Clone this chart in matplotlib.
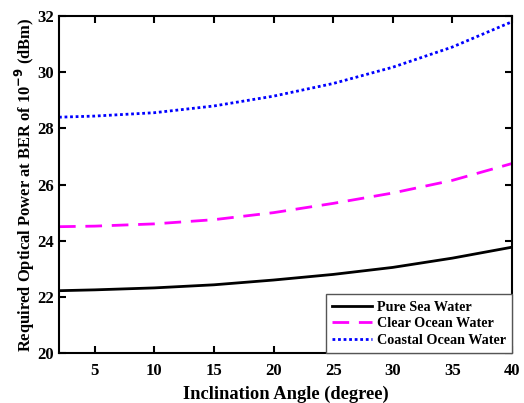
import numpy as np
import matplotlib
matplotlib.use("Agg")
from matplotlib import pyplot as plt

angle = [2, 5, 10, 15, 20, 25, 30, 35, 40]
pure_sea = [22.22, 22.25, 22.32, 22.43, 22.6, 22.8, 23.05, 23.38, 23.77]
clear_ocean = [24.5, 24.52, 24.6, 24.75, 25.0, 25.33, 25.7, 26.15, 26.75]
coastal_ocean = [28.4, 28.44, 28.56, 28.8, 29.15, 29.6, 30.18, 30.9, 31.8]

plt.rcParams['font.family'] = ['Liberation Serif', 'DejaVu Serif']
plt.rcParams['font.weight'] = 'bold'
plt.rcParams['mathtext.default'] = 'bf'

fig = plt.figure(figsize=(5.24, 4.03), dpi=100)
ax = fig.add_axes([0.1126, 0.124, 0.8645, 0.836])

ax.plot(angle, pure_sea, color='black', lw=2, label='Pure Sea Water')
ax.plot(angle, clear_ocean, color='magenta', lw=2, ls=(0, (6, 3.5)), label='Clear Ocean Water')
ax.plot(angle, coastal_ocean, color='blue', lw=2, ls=(0, (1, 1)), label='Coastal Ocean Water')

ax.set_xlim(2, 40)
ax.set_ylim(20, 32)
ax.set_xticks([5, 10, 15, 20, 25, 30, 35, 40])
ax.set_yticks([20, 22, 24, 26, 28, 30, 32])
ax.tick_params(direction='in', top=True, right=True, labelsize=12, width=1.5, length=5)
ax.tick_params(axis='x', pad=7)
for lab in ax.get_xticklabels() + ax.get_yticklabels():
    lab.set_fontweight('bold')
for s in ax.spines.values():
    s.set_linewidth(1.5)

ax.set_xlabel('Inclination Angle (degree)', fontsize=13.3, fontweight='bold', labelpad=5)
ax.set_ylabel('Required Optical Power at BER of 10$^{\\mathbf{-9}}$ (dBm)', fontsize=11.9,
              fontweight='bold', labelpad=0.5)

leg = ax.legend(loc='lower right', fancybox=False, framealpha=1,
                borderaxespad=0, handlelength=2.8, handletextpad=0.35, labelspacing=0.25,
                borderpad=0.45, prop={'weight': 'bold', 'size': 10.2})
leg.get_frame().set_edgecolor('#555555')
leg.get_frame().set_linewidth(1)

fig.savefig('out.png', dpi=100)
